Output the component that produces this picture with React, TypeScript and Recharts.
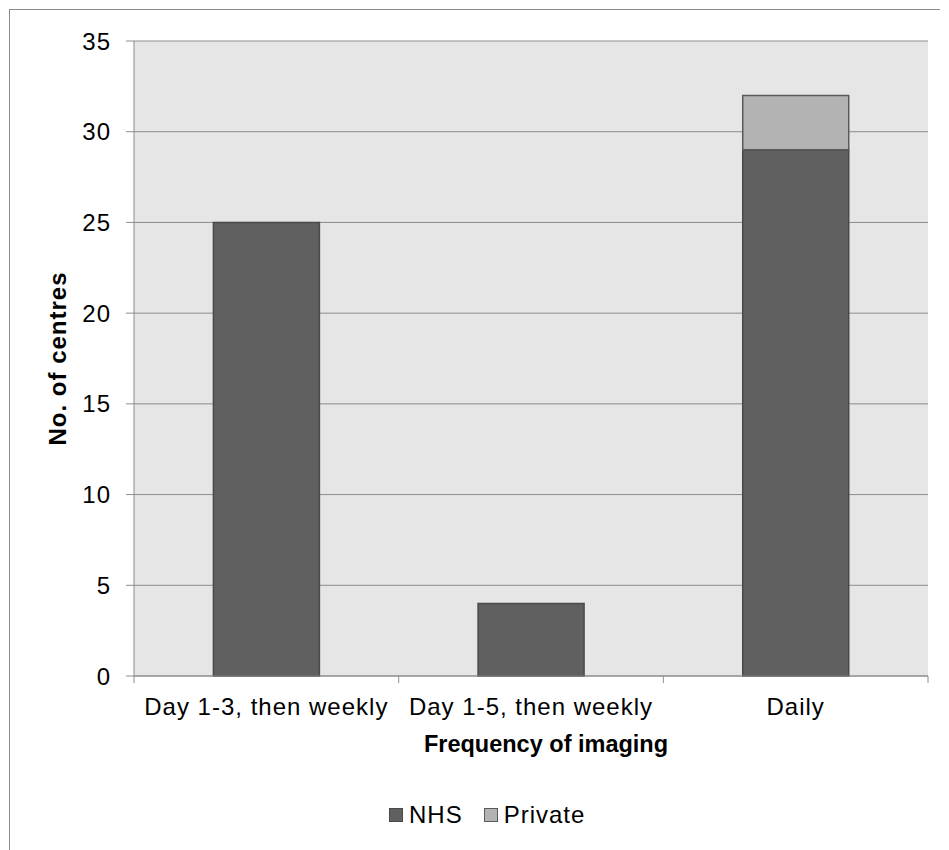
import { BarChart, Bar, XAxis, YAxis, CartesianGrid, Legend } from "recharts"

const categories = ["Day 1-3, then weekly", "Day 1-5, then weekly", "Daily"]
const nhsCentres = [25, 4, 29]
const privateCentres = [null, null, 3]
const yTicks = [0, 5, 10, 15, 20, 25, 30, 35]

const data = categories.map((name, i) => ({
  name,
  nhs: nhsCentres[i],
  private: privateCentres[i],
}))

const FONT = "'Liberation Sans', Arial, sans-serif"
const AXIS = "#8c8c8c"
const NHS_FILL = "#606060"
const PRIVATE_FILL = "#b3b3b3"
const TICK_SIZE = 7
const TICK_GAP = 15

// category label under each bar, with the tick marks on the band edges
function CategoryTick(props: any) {
  const { x, y, payload, index, visibleTicksCount, width } = props
  const half = payload.offset ?? width / visibleTicksCount / 2
  const axisY = y - TICK_SIZE - TICK_GAP
  const last = index === visibleTicksCount - 1
  return (
    <g>
      <line x1={x - half} x2={x - half} y1={axisY} y2={axisY + TICK_SIZE} stroke={AXIS} />
      {last && (
        <line x1={x + half} x2={x + half} y1={axisY} y2={axisY + TICK_SIZE} stroke={AXIS} />
      )}
      <text
        x={x}
        y={y}
        dy="0.71em"
        textAnchor="middle"
        fill="#000"
        fontSize={24}
        letterSpacing={1}
        fontFamily={FONT}
      >
        {payload.value}
      </text>
    </g>
  )
}

function LegendContent() {
  const items = [
    { label: "NHS", fill: NHS_FILL, stroke: "#4a4a4a" },
    { label: "Private", fill: PRIVATE_FILL, stroke: "#5a5a5a" },
  ]
  return (
    <div style={{ display: "flex", alignItems: "center", height: 28 }}>
      {items.map((it, i) => (
        <div
          key={it.label}
          style={{ display: "flex", alignItems: "center", marginLeft: i ? 21 : 0 }}
        >
          <span
            style={{
              width: 12,
              height: 12,
              background: it.fill,
              border: `1px solid ${it.stroke}`,
              marginRight: 6,
            }}
          />
          <span style={{ fontSize: 24, letterSpacing: 1, color: "#000" }}>{it.label}</span>
        </div>
      ))}
    </div>
  )
}

export default function App() {
  return (
    <div
      style={{
        position: "absolute",
        left: 9,
        top: 9,
        height: 840,
        borderLeft: `1px solid ${AXIS}`,
        borderTop: `1px solid ${AXIS}`,
        fontFamily: FONT,
      }}
    >
      <BarChart
        width={930}
        height={830}
        data={data}
        margin={{ top: 31, right: 12, left: 0, bottom: 79 }}
        barCategoryGap="30%"
        style={{ fontFamily: FONT }}
      >
        <CartesianGrid vertical={false} fill="#e6e6e6" stroke={AXIS} />
        <XAxis
          dataKey="name"
          height={85}
          stroke={AXIS}
          tickLine={false}
          tickSize={TICK_SIZE}
          tickMargin={TICK_GAP}
          tick={<CategoryTick />}
          interval={0}
          label={{
            value: "Frequency of imaging",
            position: "insideBottom",
            offset: 9,
            dx: 15,
            fill: "#000",
            fontSize: 23.5,
            fontWeight: "bold",
          }}
        />
        <YAxis
          width={124}
          domain={[0, 35]}
          ticks={yTicks}
          stroke={AXIS}
          tickSize={8}
          tickMargin={15}
          tick={{ fill: "#000", fontSize: 24, letterSpacing: 1 }}
          label={{
            value: "No. of centres",
            angle: -90,
            position: "insideLeft",
            offset: 47,
            fill: "#000",
            fontSize: 24,
            fontWeight: "bold",
            letterSpacing: 1,
            style: { textAnchor: "middle" },
          }}
        />
        <Legend
          verticalAlign="middle"
          content={<LegendContent />}
          wrapperStyle={{ left: 379, top: 791, width: "auto", height: 28 }}
        />
        <Bar
          dataKey="nhs"
          name="NHS"
          stackId="centres"
          fill={NHS_FILL}
          stroke="#4a4a4a"
          strokeWidth={1.5}
          isAnimationActive={false}
        />
        <Bar
          dataKey="private"
          name="Private"
          stackId="centres"
          fill={PRIVATE_FILL}
          stroke="#5a5a5a"
          strokeWidth={1.5}
          isAnimationActive={false}
        />
      </BarChart>
    </div>
  )
}
